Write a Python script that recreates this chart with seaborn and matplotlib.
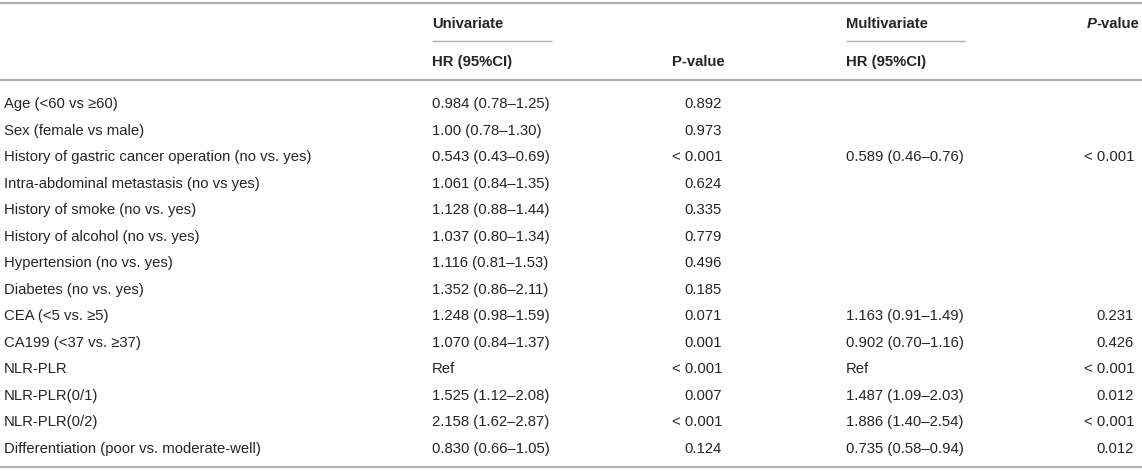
import matplotlib
matplotlib.use("Agg")
import matplotlib.pyplot as plt
import seaborn as sns

# ---- data ----
variables = [
    "Age (<60 vs \u226560)",
    "Sex (female vs male)",
    "History of gastric cancer operation (no vs. yes)",
    "Intra-abdominal metastasis (no vs yes)",
    "History of smoke (no vs. yes)",
    "History of alcohol (no vs. yes)",
    "Hypertension (no vs. yes)",
    "Diabetes (no vs. yes)",
    "CEA (<5 vs. \u22655)",
    "CA199 (<37 vs. \u226537)",
    "NLR-PLR",
    "NLR-PLR(0/1)",
    "NLR-PLR(0/2)",
    "Differentiation (poor vs. moderate-well)",
]
uni_hr = [
    "0.984 (0.78\u20131.25)", "1.00 (0.78\u20131.30)", "0.543 (0.43\u20130.69)",
    "1.061 (0.84\u20131.35)", "1.128 (0.88\u20131.44)", "1.037 (0.80\u20131.34)",
    "1.116 (0.81\u20131.53)", "1.352 (0.86\u20132.11)", "1.248 (0.98\u20131.59)",
    "1.070 (0.84\u20131.37)", "Ref", "1.525 (1.12\u20132.08)",
    "2.158 (1.62\u20132.87)", "0.830 (0.66\u20131.05)",
]
uni_p = ["0.892", "0.973", "< 0.001", "0.624", "0.335", "0.779", "0.496",
         "0.185", "0.071", "0.001", "< 0.001", "0.007", "< 0.001", "0.124"]
multi_hr = ["", "", "0.589 (0.46\u20130.76)", "", "", "", "", "",
            "1.163 (0.91\u20131.49)", "0.902 (0.70\u20131.16)", "Ref",
            "1.487 (1.09\u20132.03)", "1.886 (1.40\u20132.54)", "0.735 (0.58\u20130.94)"]
multi_p = ["", "", "< 0.001", "", "", "", "", "", "0.231", "0.426",
           "< 0.001", "0.012", "< 0.001", "0.012"]

# ---- style ----
sns.set_theme(style="white")
plt.rcParams["font.family"] = ["Liberation Sans", "DejaVu Sans"]

W, H = 1142, 471
fig = plt.figure(figsize=(W / 100, H / 100), dpi=100)
ax = fig.add_axes([0, 0, 1, 1])
ax.set_xlim(0, W)
ax.set_ylim(H, 0)
ax.axis("off")

TXT = "#252525"
LINE = "#b0b0b0"
FS = 10.7
BASE = 5.3  # baseline offset from visual row centre

x_var, x_uhr, x_up, x_mhr, x_mp = 4, 432, 722, 846, 1134
x_up_h, x_mp_h = 725, 1139
y_h1, y_h2 = 23, 61
y_row0, dy = 103, 26.5

# rules
ax.plot([0, W], [3, 3], color=LINE, lw=1.6, solid_capstyle="butt")
ax.plot([0, W], [80, 80], color=LINE, lw=1.6, solid_capstyle="butt")
ax.plot([0, W], [467, 467], color=LINE, lw=1.6, solid_capstyle="butt")
ax.plot([432, 552], [41, 41], color=LINE, lw=1.0, solid_capstyle="butt")
ax.plot([846, 965], [41, 41], color=LINE, lw=1.0, solid_capstyle="butt")

# headers
hkw = dict(fontsize=FS, fontweight="bold", color=TXT, va="baseline")
ax.text(x_uhr, y_h1 + BASE, "Univariate", ha="left", **hkw)
ax.text(x_uhr, y_h2 + BASE, "HR (95%CI)", ha="left", **hkw)
ax.text(x_up_h, y_h2 + BASE, "P-value", ha="right", **hkw)
ax.text(x_mhr, y_h1 + BASE, "Multivariate", ha="left", **hkw)
ax.text(x_mhr, y_h2 + BASE, "HR (95%CI)", ha="left", **hkw)
t_val = ax.text(x_mp_h, y_h1 + BASE, "-value", ha="right", **hkw)
fig.canvas.draw()
bb = t_val.get_window_extent(renderer=fig.canvas.get_renderer())
x_left = ax.transData.inverted().transform((bb.x0, bb.y0))[0]
ax.text(x_left, y_h1 + BASE, "P", ha="right", fontstyle="italic", **hkw)

# body
bkw = dict(fontsize=FS, color=TXT, va="baseline")
for i, (v, uh, up, mh, mp) in enumerate(zip(variables, uni_hr, uni_p, multi_hr, multi_p)):
    y = y_row0 + i * dy + BASE
    ax.text(x_var, y, v, ha="left", **bkw)
    ax.text(x_uhr, y, uh, ha="left", **bkw)
    ax.text(x_up, y, up, ha="right", **bkw)
    if mh:
        ax.text(x_mhr, y, mh, ha="left", **bkw)
    if mp:
        ax.text(x_mp, y, mp, ha="right", **bkw)

fig.savefig("out.png", dpi=100)
